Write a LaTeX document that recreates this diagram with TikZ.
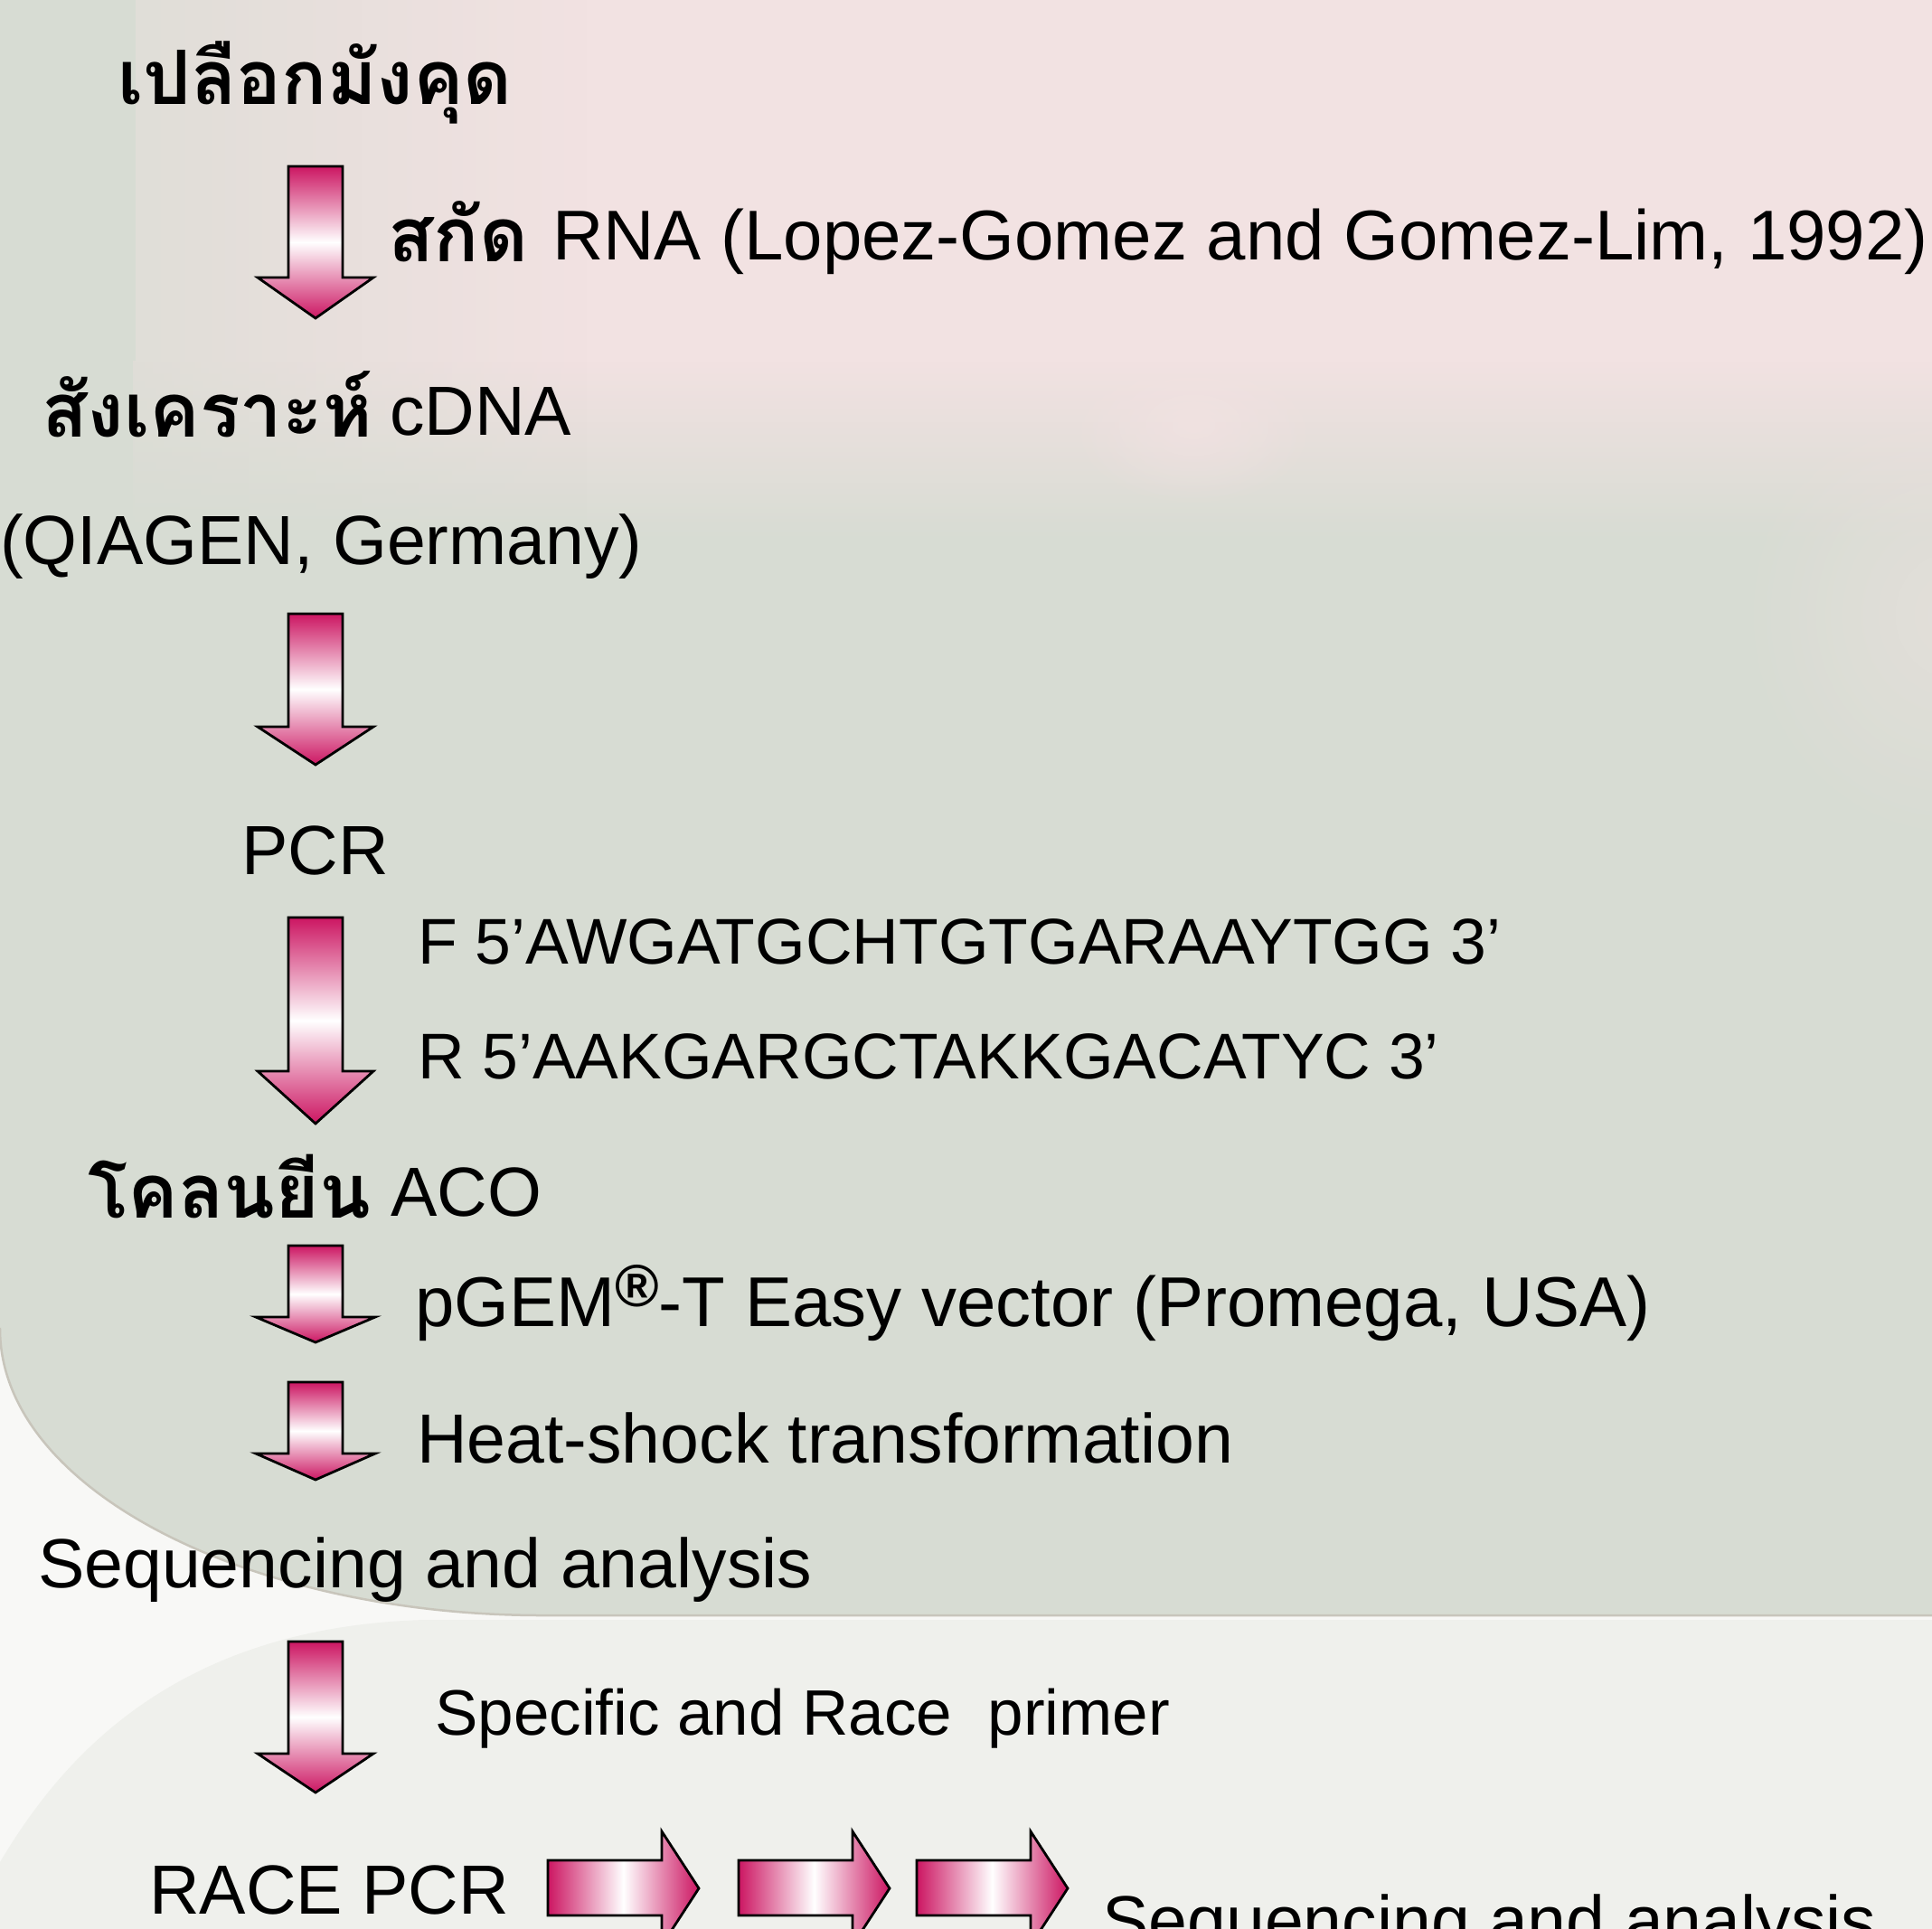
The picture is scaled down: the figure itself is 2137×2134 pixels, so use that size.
\documentclass[tikz,border=0pt]{standalone}
\usepackage{fontspec}
\setmainfont{Liberation Sans}
\newfontfamily\thaifont[Script=Thai]{Loma}
\usetikzlibrary{fadings}
\definecolor{mag}{RGB}{204,22,98}
\definecolor{gg}{RGB}{215,220,211}
\definecolor{pk}{RGB}{242,226,226}
\definecolor{lowp}{RGB}{239,240,236}
\definecolor{outw}{RGB}{248,248,246}
\definecolor{edgec}{RGB}{200,197,187}
\tikzfading[name=fadedown, top color=transparent!0, bottom color=transparent!100]
\tikzfading[name=faderight, left color=transparent!0, right color=transparent!100]
\tikzfading[name=blobfade, inner color=transparent!0, outer color=transparent!100]
\newcommand\DArr[4]{%
  \draw[varrow] (319,#1) -- (379,#1) -- (379,#2) -- (349+#4,#2) -- (349,#3) -- (349-#4,#2) -- (319,#2) -- cycle;}
\newcommand\RArr[1]{%
  \draw[harrow] (#1,2058) -- (#1+126,2058) -- (#1+126,2026) -- (#1+167,2089) -- (#1+126,2152) -- (#1+126,2119) -- (#1,2119) -- cycle;}
\begin{document}
\begin{tikzpicture}[x=1pt,y=-1pt,
  varrow/.style={draw=black, line width=2.8pt, line join=miter, top color=mag, bottom color=mag, middle color=white},
  harrow/.style={draw=black, line width=2.8pt, line join=miter, left color=mag, right color=mag, middle color=white},
  txt/.style={anchor=base west, inner sep=0pt, font=\fontsize{77}{90}\selectfont},
  smalltxt/.style={anchor=base west, inner sep=0pt, font=\fontsize{71.5}{84}\selectfont},
  thai/.style={anchor=base west, inner sep=0pt, font=\fontsize{83}{96}\selectfont\thaifont\bfseries}]
\useasboundingbox (0,0) rectangle (2137,2134);
% background
\fill[outw] (-5,-5) rectangle (2142,2139);
\fill[lowp] (-5,2139) -- (-5,2060) -- (0,2060) .. controls (60,1960) and (180,1800) .. (470,1792) -- (2142,1792) -- (2142,2139) -- cycle;
\fill[gg, draw=edgec, line width=2.5pt] (-5,-5) -- (-5,1470) -- (0,1470) .. controls (0,1650) and (280,1787) .. (600,1787) -- (2142,1787) -- (2142,-5) -- cycle;
\fill[pk] (150,-5) rectangle (2142,400);
\fill[pk, path fading=fadedown] (150,399) rectangle (2300,600);
\fill[pk, path fading=blobfade, opacity=0.8] (1320,470) ellipse [x radius=140pt, y radius=90pt];
\fill[pk, path fading=blobfade, opacity=0.45] (2160,680) ellipse [x radius=240pt, y radius=260pt];
\fill[gg, path fading=faderight] (-100,-5) rectangle (650,600);
% arrows
\DArr{184}{307}{352}{64}
\DArr{679}{804}{846}{64}
\DArr{1015}{1185}{1243}{64}
\DArr{1378}{1457}{1485}{66}
\DArr{1529}{1608}{1637}{66}
\DArr{1816}{1940}{1983}{64}
\RArr{606}
\RArr{817}
\RArr{1014}
% texts
\node[thai] (peel) at (130,115) {เปลือกมังคุด};
\node[thai] (rnath) at (429,289) {สกัด};
\node[txt, font=\fontsize{78}{90}\selectfont] (rnaen) at (611,287) {RNA (Lopez-Gomez and Gomez-Lim, 1992)};
\node[thai] (cdnath) at (46,483) {สังเคราะห์};
\node[txt] (cdnaen) at (431,481) {cDNA};
\node[txt] (qiagen) at (0,624) {(QIAGEN, Germany)};
\node[txt] (pcr) at (267,967) {PCR};
\node[smalltxt] (fprim) at (462,1066) {F 5’AWGATGCHTGTGARAAYTGG 3’};
\node[smalltxt] (rprim) at (462,1193) {R 5’AAKGARGCTAKKGACATYC 3’};
\node[thai] (cloneth) at (97,1347) {โคลนยีน};
\node[txt] (cloneen) at (432,1345) {ACO};
\node[txt, font=\fontsize{78}{90}\selectfont] (pgem) at (459,1467) {pGEM{\fontsize{66}{66}\selectfont\bfseries\raisebox{22pt}{®}}-T Easy vector (Promega, USA)};
\node[txt] (heat) at (461,1618) {Heat-shock transformation};
\node[txt] (seqa) at (42,1756) {Sequencing and analysis};
\node[anchor=base west, inner sep=0pt, font=\fontsize{71}{85}\selectfont] (spec) at (481,1919) {Specific and Race\ \ primer};
\node[txt] (race) at (165,2117) {RACE PCR};
\node[txt] (seqb) at (1219,2151) {Sequencing and analysis};
\end{tikzpicture}
\end{document}
